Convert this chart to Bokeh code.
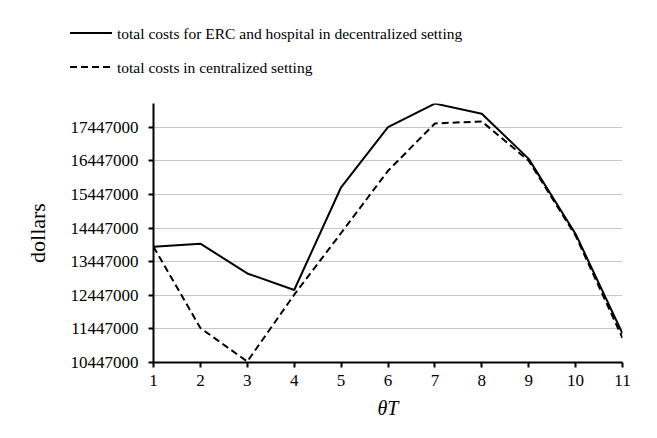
from bokeh.plotting import figure
from bokeh.models import FixedTicker, Range1d, Div
from bokeh.layouts import column
from bokeh.embed import file_html
from bokeh.resources import INLINE

theta_T = [1, 2, 3, 4, 5, 6, 7, 8, 9, 10, 11]
decentralized = [13894000, 13983000, 13097000, 12604000, 15660000, 17447000,
                 18150000, 17847000, 16506000, 14272000, 11311000]
centralized = [13894000, 11472000, 10477000, 12464000, 14300000, 16150000,
               17560000, 17620000, 16450000, 14220000, 11174000]
y_ticks = [10447000, 11447000, 12447000, 13447000, 14447000, 15447000, 16447000, 17447000]
x_ticks = [1, 2, 3, 4, 5, 6, 7, 8, 9, 10, 11]
label_dec = "total costs for ERC and hospital in decentralized setting"
label_cen = "total costs in centralized setting"

FONT = "Liberation Serif"
W = 641

# ---- legend strip (top) ----
txt_style = f"font-family:'{FONT}',serif;font-size:15.5px;font-style:normal;fill:black"
legend_html = f"""
<svg xmlns="http://www.w3.org/2000/svg" width="{W}" height="100" style="display:block">
  <line x1="70" y1="33" x2="112" y2="33" stroke="black" stroke-width="2"/>
  <text x="117" y="33" dominant-baseline="central" style="{txt_style}">{label_dec}</text>
  <line x1="70" y1="67" x2="112" y2="67" stroke="black" stroke-width="2" stroke-dasharray="7 4"/>
  <text x="117" y="67" dominant-baseline="central" style="{txt_style}">{label_cen}</text>
</svg>
"""
legend_div = Div(text=legend_html, width=W, height=100, margin=0,
                 styles={"font-family": f"'{FONT}', serif"})

# ---- main chart ----
p = figure(width=W, height=322, output_backend="svg", toolbar_location=None,
           x_range=Range1d(1, 11), y_range=Range1d(10447000, 18153000),
           min_border_left=153, min_border_right=W - 622, min_border_top=3, min_border_bottom=60)
p.outline_line_color = None
p.background_fill_color = "white"
p.border_fill_color = "white"

p.line(theta_T, decentralized, line_color="black", line_width=2)
p.line(theta_T, centralized, line_color="black", line_width=2, line_dash="7 4")

for ax in (p.xaxis[0], p.yaxis[0]):
    ax.axis_line_width = 2
    ax.axis_line_color = "black"
    ax.major_tick_line_width = 2
    ax.major_tick_line_color = "black"
    ax.major_tick_out = 5
    ax.major_tick_in = 0
    ax.minor_tick_line_color = None
    ax.major_label_text_font = FONT
    ax.major_label_text_color = "black"
    ax.major_label_text_font_size = "17px"
    ax.axis_label_text_font = FONT
    ax.axis_label_text_color = "black"

p.xaxis.ticker = FixedTicker(ticks=x_ticks)
p.yaxis.ticker = FixedTicker(ticks=y_ticks)
p.yaxis.formatter.use_scientific = False
p.xaxis.major_label_standoff = 7
p.yaxis.major_label_standoff = 10
p.xaxis.axis_label = "θT"
p.xaxis.axis_label_text_font_style = "italic"
p.xaxis.axis_label_text_font_size = "20px"
p.xaxis.axis_label_standoff = 8
p.yaxis.axis_label = "dollars"
p.yaxis.axis_label_text_font_style = "normal"
p.yaxis.axis_label_text_font_size = "22px"
p.yaxis.axis_label_standoff = 18

p.xgrid.grid_line_color = None
p.ygrid.grid_line_color = "#c8c8c8"
p.ygrid.grid_line_width = 1

layout = column(legend_div, p, spacing=0)
open("out.html", "w").write(file_html(layout, INLINE))
